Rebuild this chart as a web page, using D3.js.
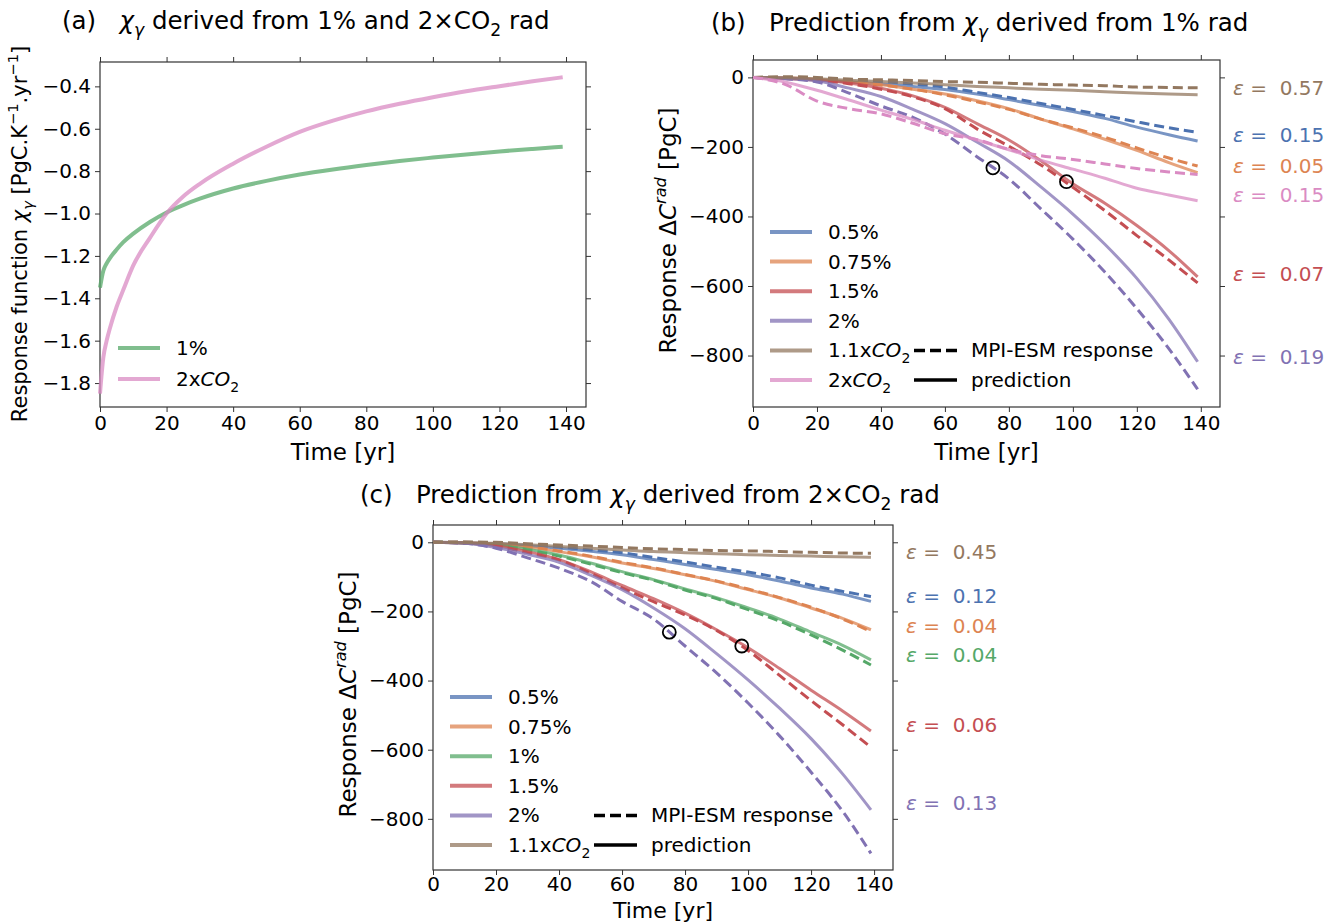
<!DOCTYPE html>
<html><head><meta charset="utf-8">
<script src="https://cdn.jsdelivr.net/npm/d3@7"></script>
<style>
html,body{margin:0;padding:0;background:#fff;}
svg{display:block;font-family:"DejaVu Sans",sans-serif;}
svg text{white-space:pre;}
</style></head>
<body><svg id="chart" width="1334" height="923"></svg>
<script>
// ---------------- DATA ----------------
const tA = [0,1,2,3,5,7,10,15,20,25,30,40,50,60,70,80,90,100,110,120,130,139];
const a_1pct  = [-1.35,-1.27,-1.235,-1.21,-1.17,-1.135,-1.095,-1.04,-0.995,-0.96,-0.93,-0.882,-0.846,-0.816,-0.792,-0.771,-0.752,-0.736,-0.721,-0.707,-0.695,-0.685];
const a_2xco2 = [-1.85,-1.68,-1.60,-1.54,-1.44,-1.36,-1.245,-1.115,-1.0,-0.92,-0.86,-0.765,-0.685,-0.615,-0.562,-0.518,-0.482,-0.451,-0.423,-0.399,-0.376,-0.357];
const aLegend = ["1%","2xCO2"];
const aXTicks = [0,20,40,60,80,100,120,140];
const aYTicks = [-1.8,-1.6,-1.4,-1.2,-1.0,-0.8,-0.6,-0.4];

const tBC = [0,10,20,30,40,50,60,70,80,90,100,110,120,130,139];
// panel (b): prediction (solid) and MPI-ESM response (dashed)
const b_pred_05  = [0,-2,-7,-13,-19,-26,-35,-48,-64,-81,-98,-118,-143,-165,-183];
const b_mpi_05   = [0,-1,-4,-8,-12,-19,-28,-43,-58,-75,-92,-110,-128,-145,-158];
const b_pred_075 = [0,-1,-5,-12,-21,-34,-48,-67,-90,-120,-148,-178,-210,-245,-274];
const b_mpi_075  = [0,-1,-6,-13,-22,-34,-50,-70,-92,-120,-145,-172,-203,-232,-255];
const b_pred_15  = [0,-3,-8,-16,-31,-53,-86,-133,-180,-240,-306,-362,-426,-498,-574];
const b_mpi_15   = [0,-3,-9,-18,-34,-56,-90,-148,-198,-252,-316,-383,-455,-525,-591];
const b_pred_2   = [0,-3,-10,-31,-55,-92,-133,-186,-241,-315,-393,-480,-578,-695,-818];
const b_mpi_2    = [0,-4,-13,-45,-82,-115,-163,-228,-292,-378,-465,-560,-665,-780,-897];
const b_pred_11  = [0,-1,-4,-8,-12,-16,-21,-26,-30,-34,-37,-41,-45,-48,-50];
const b_mpi_11   = [0,2,0,-5,-7,-9,-12,-14,-17,-20,-22,-24,-28,-29,-30];
const b_pred_2x  = [0,-13,-37,-65,-94,-121,-152,-180,-208,-238,-264,-290,-319,-338,-355];
const b_mpi_2x   = [0,-20,-68,-90,-105,-132,-162,-179,-207,-225,-236,-249,-262,-272,-279];
const bNames  = ["0.5%","0.75%","1.5%","2%","1.1xCO2","2xCO2"];
const bEps    = ["0.57","0.15","0.05","0.15","0.07","0.19"];
const bEpsSer = ["1.1xCO2","0.5%","0.75%","2xCO2","1.5%","2%"];
const bEpsAt  = [-31,-166,-255,-338,-565,-804];

// panel (c)
const c_pred_05  = [0,-1,-4,-10,-17,-26,-36,-50,-64,-79,-94,-112,-132,-150,-171];
const c_mpi_05   = [0,0,-3,-8,-14,-22,-30,-44,-57,-72,-86,-103,-124,-142,-157];
const c_pred_075 = [0,-1,-5,-14,-27,-42,-60,-76,-94,-113,-137,-161,-190,-220,-253];
const c_mpi_075  = [0,0,-4,-13,-25,-40,-58,-74,-93,-112,-135,-160,-188,-222,-258];
const c_pred_1   = [0,-2,-8,-20,-37,-60,-85,-108,-135,-160,-190,-222,-260,-298,-340];
const c_mpi_1    = [0,-1,-8,-22,-40,-63,-88,-110,-138,-163,-195,-228,-268,-312,-355];
const c_pred_15  = [0,-2,-10,-27,-50,-85,-125,-163,-205,-253,-305,-365,-428,-488,-546];
const c_mpi_15   = [0,-2,-11,-30,-51,-89,-132,-172,-210,-255,-313,-385,-458,-528,-593];
const c_pred_2   = [0,-3,-15,-35,-58,-95,-137,-190,-250,-322,-398,-480,-568,-670,-774];
const c_mpi_2    = [0,-3,-17,-45,-75,-113,-171,-222,-300,-378,-465,-560,-665,-778,-900];
const c_pred_11  = [0,-1,-3,-7,-12,-17,-22,-27,-30,-33,-36,-38,-40,-42,-43];
const c_mpi_11   = [0,1,0,-4,-8,-11,-15,-19,-21,-24,-25,-27,-29,-31,-32];
const cNames  = ["0.5%","0.75%","1%","1.5%","2%","1.1xCO2"];
const cEps    = ["0.45","0.12","0.04","0.04","0.06","0.13"];
const cEpsSer = ["1.1xCO2","0.5%","0.75%","1%","1.5%","2%"];
const cEpsAt  = [-28,-155,-242,-326,-529,-754];

const markT = [75,98];
const markV = [-260,-300];
const bcXTicks = [0,20,40,60,80,100,120,140];
const bcYTicks = [0,-200,-400,-600,-800];

// ---------------- STYLE ----------------
const COL = {"0.5%":"#4c72b0","0.75%":"#dd8452","1%":"#55a868","1.5%":"#c44e52","2%":"#8172b3","1.1xCO2":"#937860","2xCO2":"#da8bc3"};
const FT = 20, FL = 23, FTITLE = 24.5, FLEG = 20;

const svg = d3.select("#chart");

function rich(sel, parts, fs){
  let shift = 0;
  parts.forEach(p=>{
    const target = p.sub ? fs*0.28 : (p.sup ? -fs*0.42 : 0);
    const ts = sel.append("tspan").text(p.t).attr("dy", target-shift);
    if(p.sub||p.sup) ts.attr("font-size", fs*0.7);
    if(p.i) ts.attr("font-style","italic");
    shift = target;
  });
  return sel;
}
function nameParts(n){
  if(n.endsWith("CO2")) return [{t:n.replace("CO2","")},{t:"CO",i:true},{t:"2",sub:true}];
  return [{t:n}];
}

function makePanel(box, xd, yd, xt, yt, yfmt, xpad){
  const x = d3.scaleLinear().domain(xd).range([box.x0, box.x1]);
  const y = d3.scaleLinear().domain(yd).range([box.y1, box.y0]);
  const g = svg.append("g");
  const ax = (gen, tr, ticks, fmt, pad)=>{
    const a = g.append("g").attr("transform", tr)
      .call(gen.tickValues(ticks).tickSize(5).tickSizeOuter(0).tickPadding(pad).tickFormat(fmt));
    a.select(".domain").remove();
    a.selectAll("text").attr("font-size", FT).attr("fill","#000").style("font-family","DejaVu Sans");
    a.selectAll("line").attr("stroke","#333");
    return a;
  };
  ax(d3.axisBottom(x), `translate(0,${box.y1})`, xt, d3.format("d"), xpad);
  ax(d3.axisTop(x), `translate(0,${box.y0})`, xt, ()=>"", 4);
  ax(d3.axisLeft(y), `translate(${box.x0},0)`, yt, yfmt, 4);
  ax(d3.axisRight(y), `translate(${box.x1},0)`, yt, ()=>"", 4);
  g.append("rect").attr("x",box.x0).attr("y",box.y0).attr("width",box.x1-box.x0).attr("height",box.y1-box.y0)
    .attr("fill","none").attr("stroke","#333").attr("stroke-width",1.2);
  return {x,y,g};
}

function drawLine(p, ts, vs, color, opts){
  const data = ts.map((t,i)=>[t,vs[i]]);
  const line = d3.line().x(d=>p.x(d[0])).y(d=>p.y(d[1])).curve(d3.curveMonotoneX);
  p.g.append("path").datum(data).attr("d",line).attr("fill","none")
    .attr("stroke",color).attr("stroke-width",opts.w).attr("stroke-opacity",opts.o)
    .attr("stroke-dasharray",opts.dash||null);
}

// ---------------- PANEL (a) ----------------
const A = makePanel({x0:100,x1:586,y0:62,y1:407},[0,146],[-1.913,-0.285],aXTicks,aYTicks,d3.format(".1f"),4);
drawLine(A,tA,a_1pct,COL["1%"],{w:4,o:0.75});
drawLine(A,tA,a_2xco2,COL["2xCO2"],{w:4,o:0.75});
aLegend.forEach((n,i)=>{
  const yy = 348 + i*31;
  svg.append("line").attr("x1",118).attr("x2",160).attr("y1",yy).attr("y2",yy).attr("stroke",COL[n]).attr("stroke-width",4).attr("stroke-opacity",0.75);
  rich(svg.append("text").attr("x",176).attr("y",yy+7).attr("font-size",FLEG), nameParts(n), FLEG);
});
rich(svg.append("text").attr("x",62).attr("y",29).attr("font-size",FTITLE),
  [{t:"(a)   "},{t:"χ",i:true},{t:"γ",i:true,sub:true},{t:" derived from 1% and 2×CO"},{t:"2",sub:true},{t:" rad"}],FTITLE);
svg.append("text").attr("x",343).attr("y",460).attr("text-anchor","middle").attr("font-size",FL).text("Time [yr]");
rich(svg.append("text").attr("transform","translate(27,234) rotate(-90)").attr("text-anchor","middle").attr("font-size",21),
  [{t:"Response function "},{t:"χ",i:true},{t:"γ",i:true,sub:true},{t:" [PgC.K"},{t:"−1",sup:true},{t:".yr"},{t:"−1",sup:true},{t:"]"}],21);

// ---------------- PANELS (b), (c) ----------------
function bcPanel(box, series, names, eps, epsSer, epsAt, title, yLabX, xLabY, xpad, xLabF){
  const P = makePanel(box,[0,146],[-948,50],bcXTicks,bcYTicks,d3.format("d"),xpad);
  series.forEach((s,i)=>{
    const c = COL[names[i]];
    drawLine(P,tBC,s[1],c,{w:3,o:1,dash:"10,5"});
    drawLine(P,tBC,s[0],c,{w:3,o:0.75});
  });
  P.g.selectAll("circle.mk").data(markT).join("circle").attr("class","mk")
    .attr("cx",(d)=>P.x(d)).attr("cy",(d,i)=>P.y(markV[i])).attr("r",6.5)
    .attr("fill","none").attr("stroke","#000").attr("stroke-width",1.8);
  eps.forEach((e,i)=>{
    rich(svg.append("text").attr("x",box.x1+13).attr("y",P.y(epsAt[i])+7).attr("font-size",FLEG).attr("fill",COL[epsSer[i]]),
      [{t:"ε",i:true},{t:" =  "+e}],FLEG);
  });
  names.forEach((n,i)=>{
    const yy = box.y0 + 172 + i*29.6;
    svg.append("line").attr("x1",box.x0+17).attr("x2",box.x0+59).attr("y1",yy).attr("y2",yy)
      .attr("stroke",COL[n]).attr("stroke-width",4).attr("stroke-opacity",0.75);
    rich(svg.append("text").attr("x",box.x0+75).attr("y",yy+7).attr("font-size",FLEG), nameParts(n), FLEG);
  });
  const ly = box.y0 + 172 + (names.length-2)*29.6;
  [["MPI-ESM response","11,5"],["prediction",null]].forEach((d,i)=>{
    const yy = ly + i*29.6;
    svg.append("line").attr("x1",box.x0+161).attr("x2",box.x0+204).attr("y1",yy).attr("y2",yy)
      .attr("stroke","#000").attr("stroke-width",3.5).attr("stroke-dasharray",d[1]);
    svg.append("text").attr("x",box.x0+218).attr("y",yy+7).attr("font-size",FLEG).text(d[0]);
  });
  rich(svg.append("text").attr("x",title.x).attr("y",title.y).attr("font-size",FTITLE), title.parts, FTITLE);
  svg.append("text").attr("x",(box.x0+box.x1)/2).attr("y",xLabY).attr("text-anchor","middle").attr("font-size",xLabF).text("Time [yr]");
  rich(svg.append("text").attr("transform",`translate(${yLabX},${(box.y0+box.y1)/2-3}) rotate(-90)`).attr("text-anchor","middle").attr("font-size",FL),
    [{t:"Response Δ"},{t:"C",i:true},{t:"rad",i:true,sup:true},{t:" [PgC]"}],FL);
}

bcPanel({x0:753,x1:1220,y0:60,y1:407},
  [[b_pred_05,b_mpi_05],[b_pred_075,b_mpi_075],[b_pred_15,b_mpi_15],[b_pred_2,b_mpi_2],[b_pred_11,b_mpi_11],[b_pred_2x,b_mpi_2x]],
  bNames,bEps,bEpsSer,bEpsAt,
  {x:711,y:31,parts:[{t:"(b)   Prediction from "},{t:"χ",i:true},{t:"γ",i:true,sub:true},{t:" derived from 1% rad"}]},676,460,4,FL);

bcPanel({x0:433,x1:893,y0:525,y1:870},
  [[c_pred_05,c_mpi_05],[c_pred_075,c_mpi_075],[c_pred_1,c_mpi_1],[c_pred_15,c_mpi_15],[c_pred_2,c_mpi_2],[c_pred_11,c_mpi_11]],
  cNames,cEps,cEpsSer,cEpsAt,
  {x:360,y:503,parts:[{t:"(c)   Prediction from "},{t:"χ",i:true},{t:"γ",i:true,sub:true},{t:" derived from 2×CO"},{t:"2",sub:true},{t:" rad"}]},356,918,2,22);
</script></body></html>
